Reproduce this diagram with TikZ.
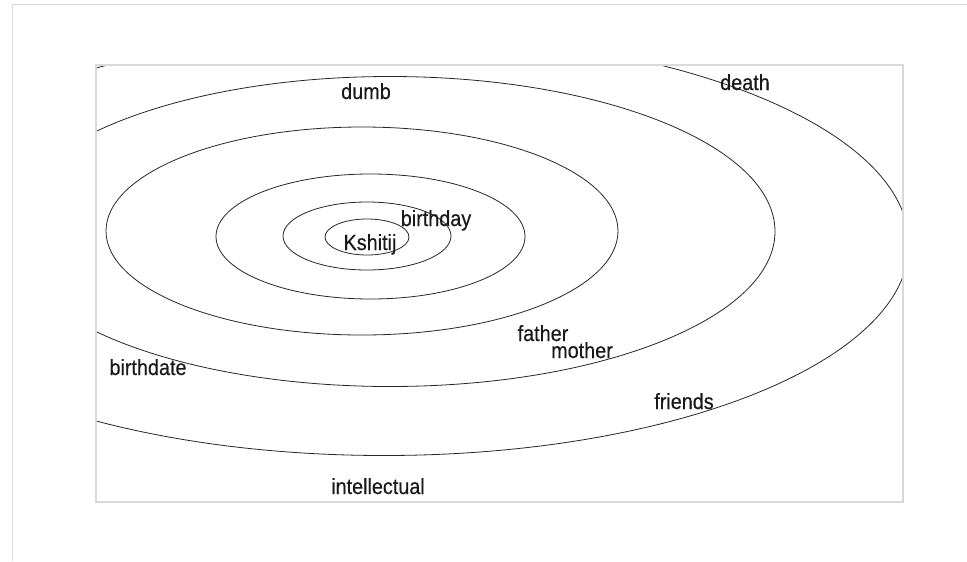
\documentclass[tikz,border=0pt]{standalone}
\usepackage{fontspec}
\setmainfont{Liberation Sans}[FakeStretch=0.9,FakeBold=0.4]
\usetikzlibrary{positioning}

\begin{document}
\begin{tikzpicture}[x=0.75pt,y=-0.75pt,
    ring/.style={draw=black!85,line width=0.6pt},
    word/.style={anchor=base,inner sep=0pt,text=black!90,font=\fontsize{16.5}{19}\selectfont}]
            \useasboundingbox (0,0) rectangle (967,561);
            \draw[black!15,line width=0.8pt] (12.5,561) -- (12.5,4.5) -- (967,4.5);
            \begin{scope}
                \clip (96,65) rectangle (903,502);
                \draw[ring] (367,237) ellipse [x radius=42,y radius=18];
                \draw[ring] (367,236) ellipse [x radius=84,y radius=34];
                \draw[ring] (370.5,236.5) ellipse [x radius=154.5,y radius=62.5];
                \draw[ring] (362,231) ellipse [x radius=256,y radius=104];
                \draw[ring] (390,231.5) ellipse [x radius=385,y radius=155];
                \draw[ring] (384,244.5) ellipse [x radius=525,y radius=211];
            \end{scope}
            \draw[black!15,line width=0.8pt] (96,65) rectangle (903,502);
            \node[word] (self) at (370,250) {Kshitij};
            \node[word] (bday) at (436,226) {birthday};
            \node[word] (dumb) at (366,99) {dumb};
            \node[word] (death) at (745,90) {death};
            \node[word] (father) at (543,341) {father};
            \node[word] (mother) at (582,358) {mother};
            \node[word] (friends) at (684,409) {friends};
            \node[word] (bdate) at (148,375) {birthdate};
            \node[word] (intel) at (378,494) {intellectual};
        \end{tikzpicture}
\end{document}
